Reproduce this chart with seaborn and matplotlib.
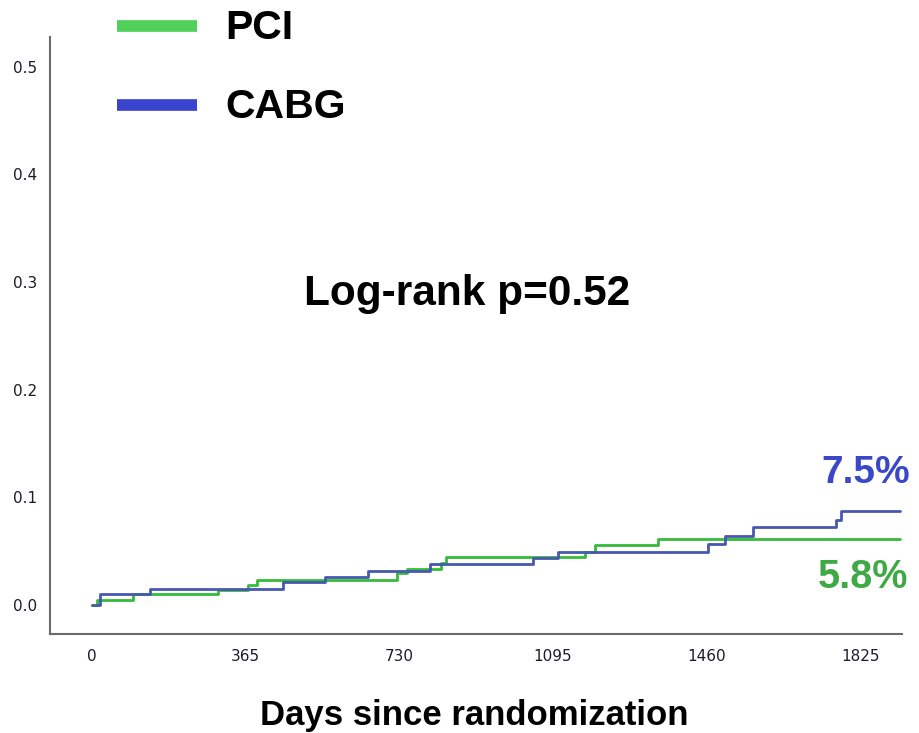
import numpy as np
import pandas as pd
import seaborn as sns
import matplotlib
matplotlib.use("Agg")
import matplotlib.pyplot as plt
from matplotlib.lines import Line2D

# Cumulative incidence step data (days since randomization, event rate)
pci_days = [0, 11, 97, 299, 370, 391, 724, 747, 830, 842, 1171, 1195, 1345, 1920]
pci_rate = [0.0, 0.0046, 0.0099, 0.0139, 0.0186, 0.0232, 0.0294, 0.0337, 0.0393,
            0.0446, 0.0495, 0.0557, 0.0616, 0.0616]

cabg_days = [0, 19, 138, 454, 553, 656, 803, 1048, 1107, 1463, 1503, 1570, 1768, 1780, 1920]
cabg_rate = [0.0, 0.0102, 0.0151, 0.0214, 0.0263, 0.0318, 0.0378, 0.0434, 0.0495,
             0.0566, 0.0641, 0.0721, 0.0789, 0.0876, 0.0876]

groups = ["PCI", "CABG"]
x_ticks = [0, 365, 730, 1095, 1460, 1825]
y_ticks = [0.0, 0.1, 0.2, 0.3, 0.4, 0.5]
end_labels = {"CABG": "7.5%", "PCI": "5.8%"}
p_text = "Log-rank p=0.52"
x_title = "Days since randomization"

curve_colors = {"PCI": "#35bb3a", "CABG": "#4658b0"}
legend_colors = {"PCI": "#4fd15a", "CABG": "#3a44cc"}
label_colors = {"PCI": "#3faa45", "CABG": "#3a48c8"}

df = pd.concat([
    pd.DataFrame({"days": pci_days, "rate": pci_rate, "group": "PCI"}),
    pd.DataFrame({"days": cabg_days, "rate": cabg_rate, "group": "CABG"}),
], ignore_index=True)

sns.set_theme(style="white")
plt.rcParams["font.family"] = ["DejaVu Sans"]

fig = plt.figure(figsize=(9.2, 7.33), dpi=100)
ax = fig.add_axes([0.0543, 0.135, 0.9261, 0.8145])

sns.lineplot(data=df, x="days", y="rate", hue="group", hue_order=groups,
             palette=curve_colors, estimator=None, sort=False,
             drawstyle="steps-post", linewidth=2.0, legend=False, ax=ax)

ax.set_xlim(-100, 1924)
ax.set_ylim(-0.027, 0.5274)
ax.set_xticks(x_ticks)
ax.set_xticklabels([str(t) for t in x_ticks])
ax.set_yticks(y_ticks)
ax.set_yticklabels([f"{t:.1f}" for t in y_ticks])
ax.set_xlabel("")
ax.set_ylabel("")

for side in ("top", "right"):
    ax.spines[side].set_visible(False)
for side in ("left", "bottom"):
    ax.spines[side].set_color("#6b6b6b")
    ax.spines[side].set_linewidth(1.5)

ax.tick_params(axis="both", which="major", direction="out", length=7.5,
               width=1.4, color="#4a4a4a", labelsize=11, labelcolor="#1c1c2a")
ax.tick_params(axis="y", pad=2)
ax.tick_params(axis="x", pad=3.5)

# Legend keys drawn as thick bars with bold group names
for grp, y_line, y_txt in (("PCI", 0.9649, 0.9468), ("CABG", 0.8568, 0.8390)):
    fig.add_artist(Line2D([0.1268, 0.2138], [y_line, y_line], color=legend_colors[grp],
                          linewidth=8.4, solid_capstyle="butt",
                          transform=fig.transFigure))
    fig.text(0.2446, y_txt, grp, fontsize=29.5, fontweight="bold",
             family="Liberation Sans", color="black", ha="left", va="baseline")

fig.text(0.508, 0.5839, p_text, fontsize=30.5, fontweight="bold",
         family="Liberation Sans", color="black", ha="center", va="baseline")

fig.text(0.989, 0.3406, end_labels["CABG"], fontsize=28, fontweight="bold",
         family="Liberation Sans", color=label_colors["CABG"], ha="right", va="baseline")
fig.text(0.987, 0.1974, end_labels["PCI"], fontsize=28.5, fontweight="bold",
         family="Liberation Sans", color=label_colors["PCI"], ha="right", va="baseline")

fig.text(0.516, 0.0109, x_title, fontsize=25, fontweight="bold",
         family="Liberation Sans", color="black", ha="center", va="baseline")

fig.savefig("out.png", dpi=100)
